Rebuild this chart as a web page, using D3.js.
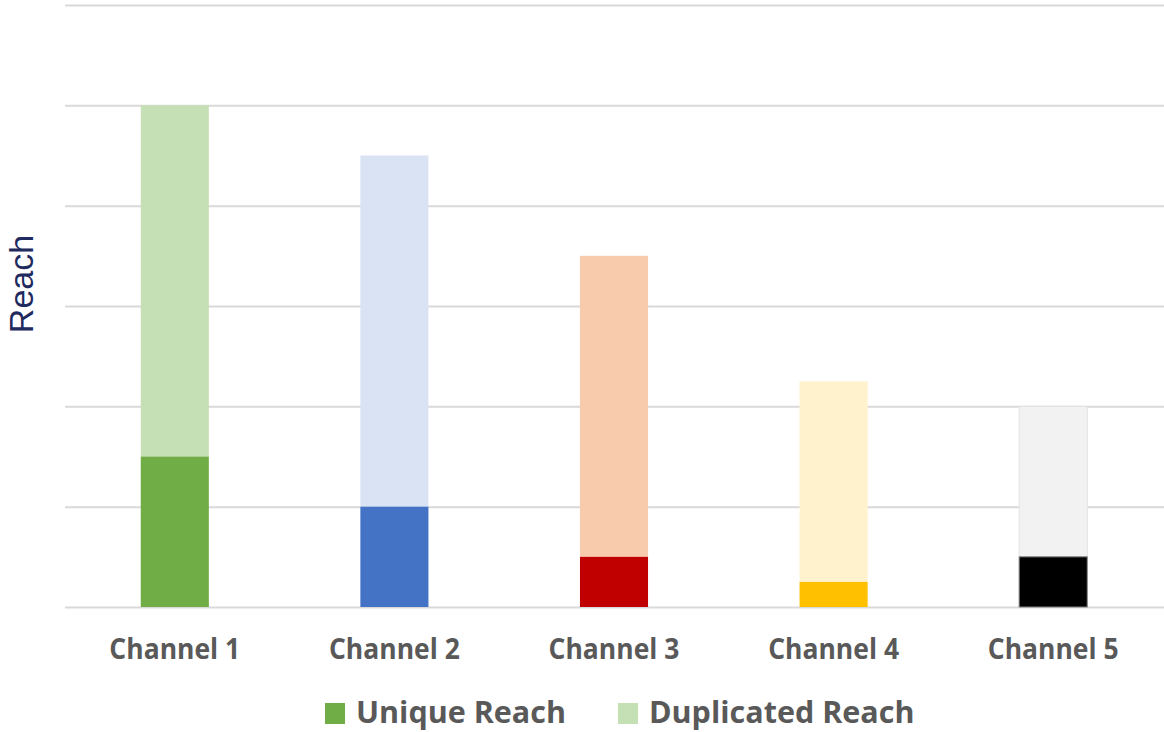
<!DOCTYPE html>
<html>
<head>
<meta charset="utf-8">
<script src="https://cdn.jsdelivr.net/npm/d3@7"></script>
<style>
  body { margin: 0; background: #fff; }
  text { font-family: "Open Sans", sans-serif; }
</style>
</head>
<body>
<div id="chart"></div>
<script>
(function() {
    var width = 1164,
        height = 732;

    // data
    var channels = ["Channel 1", "Channel 2", "Channel 3", "Channel 4", "Channel 5"];
    var uniqueReach = [1.5, 1, 0.5, 0.25, 0.5];
    var duplicatedReach = [3.5, 3.5, 3, 2, 1.5];
    var uniqueColors = ["#70AD47", "#4472C4", "#C00000", "#FFC000", "#000000"];
    var dupColors = ["#C5E0B4", "#DAE3F3", "#F8CBAD", "#FFF2CC", "#F2F2F2"];
    var yTicks = [0, 1, 2, 3, 4, 5, 6];
    var legendLabels = ["Unique Reach", "Duplicated Reach"];

    var svg = d3.select("#chart")
        .append("svg")
        .attr("width", width)
        .attr("height", height)

    var x = d3.scaleBand().domain(channels).range([65, 1163]).paddingInner(0.69).paddingOuter(0.345)
    var y = d3.scaleLinear().domain([0, 6]).range([607, 5])

    // gridlines
    svg.append("g")
        .attr("transform", "translate(65,0)")
        .call(d3.axisLeft(y).tickValues(yTicks).tickSize(-(width - 65)).tickFormat(""))
        .call(function(g) { g.select(".domain").remove() })
        .selectAll("line")
        .attr("stroke", "#d9d9d9")
        .attr("stroke-width", 2)

    var rows = channels.map(function(c, i) {
        return { channel: c, unique: uniqueReach[i], dup: duplicatedReach[i], i: i }
    })

    var bars = svg.append("g")
    // duplicated part on top
    bars.selectAll(".dup")
        .data(rows)
        .enter().append("rect")
        .attr("class", "dup")
        .attr("x", function(d) { return x(d.channel) })
        .attr("width", x.bandwidth())
        .attr("y", function(d) { return y(d.unique + d.dup) })
        .attr("height", function(d) { return y(d.unique) - y(d.unique + d.dup) })
        .attr("fill", function(d) { return dupColors[d.i] })
        .attr("stroke", function(d) { return d.i == 4 ? "#e2e2e2" : "none" })
        .attr("stroke-width", 1)

    bars.selectAll(".uni")
        .data(rows)
        .enter().append("rect")
        .attr("class", "uni")
        .attr("x", function(d) { return x(d.channel) })
        .attr("width", x.bandwidth())
        .attr("y", function(d) { return y(d.unique) })
        .attr("height", function(d) { return y(0) - y(d.unique) })
        .attr("fill", function(d) { return uniqueColors[d.i] })
        .attr("stroke", function(d) { return d.i == 4 ? "#7f7f7f" : "none" })
        .attr("stroke-width", 1)

    // category labels
    var xAxis = svg.append("g")
        .attr("transform", "translate(0,607)")
        .call(d3.axisBottom(x).tickSize(0).tickPadding(0))
    xAxis.select(".domain").remove()
    xAxis.selectAll("text")
        .attr("y", 0)
        .attr("dy", 0)
        .attr("transform", "translate(0,52) scale(1,1.1)")
        .attr("fill", "#595959")
        .style("font-family", "'Open Sans', sans-serif")
        .style("font-weight", "bold")
        .style("font-size", "26.5px")

    // y title
    svg.append("text")
        .attr("transform", "translate(33,284) rotate(-90)")
        .attr("text-anchor", "middle")
        .style("font-family", "'Liberation Sans', Arial, sans-serif")
        .style("font-size", "34px")
        .attr("fill", "#1F2A5E")
        .text("Reach")

    // legend
    var legendX = [325, 618];
    var legend = svg.selectAll(".legend")
        .data(legendLabels)
        .enter().append("g")
        .attr("class", "legend")
        .attr("transform", function(d, i) { return "translate(" + legendX[i] + ",703)" })
    legend.append("rect")
        .attr("width", 20)
        .attr("height", 21)
        .attr("fill", function(d, i) { return i == 0 ? uniqueColors[0] : dupColors[0] })
    legend.append("text")
        .attr("x", 31)
        .attr("y", 20)
        .attr("fill", "#595959")
        .style("font-weight", "bold")
        .style("font-size", "30.5px")
        .text(function(d) { return d })
})();
</script>
</body>
</html>
